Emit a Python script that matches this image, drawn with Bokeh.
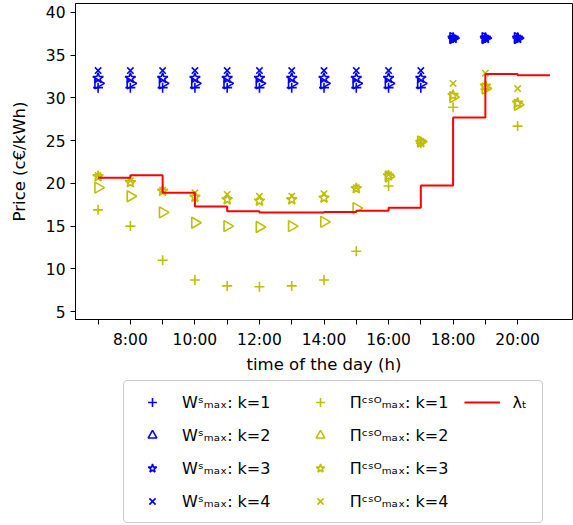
import numpy as np
from bokeh.plotting import figure
from bokeh.layouts import column
from bokeh.models import Legend, LegendItem, FixedTicker, Range1d
from bokeh.embed import file_html
from bokeh.resources import INLINE

# ---- data ----
hours = [7, 8, 9, 10, 11, 12, 13, 14, 15, 16, 17, 18, 19, 20]
x_tick_labels = {7: "", 8: "8:00", 9: "", 10: "10:00", 11: "", 12: "12:00", 13: "",
                 14: "14:00", 15: "", 16: "16:00", 17: "", 18: "18:00", 19: "", 20: "20:00"}
y_ticks = [5, 10, 15, 20, 25, 30, 35, 40]

w_k1 = [31.2, 31.2, 31.2, 31.2, 31.2, 31.2, 31.2, 31.2, 31.2, 31.2, 31.2, 37.0, 37.0, 37.0]
w_k2 = [31.7, 31.7, 31.7, 31.7, 31.7, 31.7, 31.7, 31.7, 31.7, 31.7, 31.7, 37.0, 37.0, 37.0]
w_k3 = [32.3, 32.3, 32.3, 32.3, 32.3, 32.3, 32.3, 32.3, 32.3, 32.3, 32.3, 37.0, 37.0, 37.0]
w_k4 = [33.2, 33.2, 33.2, 33.2, 33.2, 33.2, 33.2, 33.2, 33.2, 33.2, 33.2, 37.0, 37.0, 37.0]

pi_k1 = [16.9, 15.0, 11.0, 8.7, 8.0, 7.9, 8.0, 8.7, 12.05, 19.7, 24.7, 28.9, 31.0, 26.7]
pi_k2 = [19.5, 18.5, 16.6, 15.4, 15.0, 14.9, 15.0, 15.5, 17.1, 20.8, 24.9, 30.1, 31.1, 29.2]
pi_k3 = [20.8, 20.1, 19.1, 18.4, 18.1, 17.95, 18.1, 18.3, 19.4, 20.9, 24.8, 30.3, 31.4, 29.4]
pi_k4 = [20.9, 20.3, 19.2, 18.9, 18.7, 18.5, 18.5, 18.8, 19.5, 21.0, 24.9, 31.7, 32.9, 31.1]

lam_hours = [7, 8, 9, 10, 11, 12, 13, 14, 15, 16, 17, 18, 19, 20, 21]
lam = [20.65, 20.95, 18.9, 17.3, 16.75, 16.6, 16.6, 16.65, 16.8, 17.15, 19.75, 27.7, 32.8, 32.65, 32.65]

BLUE = "#0000ff"
YEL = "#bfbf00"
RED = "#ff0000"
FONT = "DejaVu Sans"

p = figure(width=573, height=376, output_backend="svg", toolbar_location=None,
           x_range=Range1d(6.3, 21.7), y_range=Range1d(4.07, 41.05),
           min_border_top=3, min_border_right=1, min_border_left=75,
           min_border_bottom=55,
           x_axis_label="time of the day (h)", y_axis_label="Price (c€/kWh)")

p.grid.visible = False
p.outline_line_color = "black"
p.outline_line_alpha = 1.0
p.outline_line_width = 1

p.xaxis.ticker = FixedTicker(ticks=hours)
p.xaxis.major_label_overrides = x_tick_labels
p.yaxis.ticker = FixedTicker(ticks=y_ticks)
for ax in (p.xaxis, p.yaxis):
    ax.minor_tick_line_color = None
    ax.major_tick_in = 0
    ax.major_tick_out = 5
    ax.major_tick_line_color = "black"
    ax.axis_line_color = "black"
    ax.major_label_text_font = FONT
    ax.major_label_text_font_size = "15.5px"
    ax.major_label_text_color = "black"
    ax.axis_label_text_font = FONT
    ax.axis_label_text_font_size = "16.5px"
    ax.axis_label_text_font_style = "normal"
    ax.axis_label_text_color = "black"
p.xaxis.major_label_standoff = 6
p.xaxis.axis_label_standoff = 3
p.yaxis.major_label_standoff = 5
p.yaxis.axis_label_standoff = 14

STYLE = {
    "cross": dict(marker="cross", size=10, angle=0.0),
    "tri": dict(marker="triangle", size=11, angle=-np.pi / 2),
    "star": dict(marker="star", size=11, angle=0.0),
    "x": dict(marker="x", size=9, angle=0.0),
}

def markers(fig, x, y, color, kind):
    return fig.scatter(x, y, line_color=color, fill_color=None, line_width=1.6, **STYLE[kind])

markers(p, hours, w_k1, BLUE, "cross")
markers(p, hours, w_k2, BLUE, "tri")
markers(p, hours, w_k3, BLUE, "star")
markers(p, hours, w_k4, BLUE, "x")
markers(p, hours, pi_k1, YEL, "cross")
markers(p, hours, pi_k2, YEL, "tri")
markers(p, hours, pi_k3, YEL, "star")
markers(p, hours, pi_k4, YEL, "x")
p.step(lam_hours, lam, mode="after", line_color=RED, line_width=2)

# ---- legend panel below the chart (its own renderers sit outside its view) ----
lf = figure(width=573, height=149, output_backend="svg", toolbar_location=None,
            x_range=Range1d(0, 1), y_range=Range1d(0, 1),
            x_axis_location=None, y_axis_location=None, min_border=0)
lf.grid.visible = False
lf.outline_line_color = None

lw1 = markers(lf, hours, w_k1, BLUE, "cross")
lw2 = markers(lf, hours, w_k2, BLUE, "tri")
lw3 = markers(lf, hours, w_k3, BLUE, "star")
lw4 = markers(lf, hours, w_k4, BLUE, "x")
lp1 = markers(lf, hours, pi_k1, YEL, "cross")
lp2 = markers(lf, hours, pi_k2, YEL, "tri")
lp3 = markers(lf, hours, pi_k3, YEL, "star")
lp4 = markers(lf, hours, pi_k4, YEL, "x")
ll = lf.step(lam_hours, lam, mode="after", line_color=RED, line_width=2)

NB = "\u00a0"
W = "W\u02e2\u2098\u2090\u2093"
PI = "\u03a0\u1d9c\u02e2\u1d3c\u2098\u2090\u2093"
items = [
    LegendItem(label=W + ": k=1" + NB * 4, renderers=[lw1]),
    LegendItem(label=W + ": k=2" + NB * 4, renderers=[lw2]),
    LegendItem(label=W + ": k=3" + NB * 4, renderers=[lw3]),
    LegendItem(label=W + ": k=4" + NB * 4, renderers=[lw4]),
    LegendItem(label=PI + ": k=1" + NB, renderers=[lp1]),
    LegendItem(label=PI + ": k=2" + NB, renderers=[lp2]),
    LegendItem(label=PI + ": k=3" + NB, renderers=[lp3]),
    LegendItem(label=PI + ": k=4" + NB, renderers=[lp4]),
    LegendItem(label="\u03bb\u209c", renderers=[ll]),
]
legend = Legend(items=items, orientation="vertical", nrows=4, location=(48, 2),
                glyph_width=36, glyph_height=22, label_height=20, label_standoff=12,
                spacing=11, padding=10, margin=0,
                label_text_font=FONT, label_text_font_size="16px",
                label_text_color="black",
                border_line_color="#cccccc", border_line_alpha=1.0,
                background_fill_color="white", background_fill_alpha=1.0)
if "border_radius" in Legend.properties():
    legend.border_radius = 4
lf.add_layout(legend, "center")

layout = column(p, lf, spacing=0)
open("out.html", "w").write(file_html(layout, INLINE))
